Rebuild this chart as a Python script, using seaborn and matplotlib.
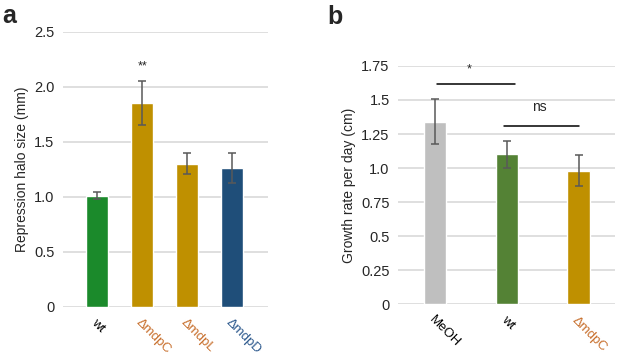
import numpy as np
import pandas as pd
import matplotlib
matplotlib.use("Agg")
import matplotlib.pyplot as plt
import seaborn as sns

# ------------------------------
# Data
# ------------------------------
a_strains = ["wt", "\u0394mdpC", "\u0394mdpL", "\u0394mdpD"]
a_halo = [1.01, 1.85, 1.30, 1.26]
a_err = [0.03, 0.20, 0.095, 0.135]
a_bar_colors = ["#1B8A2B", "#BF9000", "#BF9000", "#1F4E79"]
a_label_colors = ["#000000", "#C8702E", "#C8702E", "#2E5A8E"]
a_ticks = [0, 0.5, 1.0, 1.5, 2.0, 2.5]
a_ticklabels = ["0", "0.5", "1.0", "1.5", "2.0", "2.5"]

b_groups = ["MeOH", "wt", "\u0394mdpC"]
b_growth = [1.34, 1.10, 0.98]
b_err = [0.165, 0.10, 0.115]
b_bar_colors = ["#BFBFBF", "#548235", "#BF9000"]
b_label_colors = ["#000000", "#000000", "#C8702E"]
b_ticks = [0, 0.25, 0.5, 0.75, 1.0, 1.25, 1.5, 1.75]
b_ticklabels = ["0", "0.25", "0.5", "0.75", "1.0", "1.25", "1.5", "1.75"]

# ------------------------------
# Style
# ------------------------------
sns.set_style("white")
plt.rcParams['font.family'] = ['Liberation Sans', 'DejaVu Sans']

fig = plt.figure(figsize=(6.17, 3.56), dpi=100)
ax_a = fig.add_axes([0.102, 0.138, 0.332, 0.773])
ax_b = fig.add_axes([0.645, 0.145, 0.352, 0.670])


def draw_panel(ax, cats, vals, errs, bar_colors, label_colors, width,
               ticks, ticklabels, ylabel, xlim):
    df = pd.DataFrame({"cat": cats, "val": vals})
    sns.barplot(data=df, x="cat", y="val", hue="cat", palette=bar_colors,
                width=width, legend=False, ax=ax, zorder=3, saturation=1)
    ax.errorbar(np.arange(len(cats)), vals, yerr=errs, fmt="none",
                ecolor="#595959", elinewidth=1.1, capsize=3, capthick=1.1,
                zorder=4)
    ax.set_ylim(ticks[0], ticks[-1])
    ax.set_xlim(*xlim)
    ax.set_yticks(ticks)
    ax.set_yticklabels(ticklabels, fontsize=10.5)
    ax.yaxis.grid(True, color="#D9D9D9", linewidth=1.2, zorder=0)
    ax.set_axisbelow(True)
    for s in ax.spines.values():
        s.set_visible(False)
    ax.tick_params(axis="both", length=0, pad=6)
    ax.set_xlabel("")
    ax.set_ylabel(ylabel, fontsize=10)
    ax.set_xticks(np.arange(len(cats)))
    ax.set_xticklabels(cats, rotation=-45, ha="left", rotation_mode="anchor",
                       fontsize=9.5)
    for lab, c in zip(ax.get_xticklabels(), label_colors):
        lab.set_color(c)
    ax.tick_params(axis="x", pad=7)


# ------------------------------
# Panel a
# ------------------------------
draw_panel(ax_a, a_strains, a_halo, a_err, a_bar_colors, a_label_colors,
           0.49, a_ticks, a_ticklabels, "Repression halo size (mm)",
           (-0.77, 3.8))
ax_a.text(1, 2.13, "**", ha="center", va="bottom", fontsize=9)

# ------------------------------
# Panel b
# ------------------------------
draw_panel(ax_b, b_groups, b_growth, b_err, b_bar_colors, b_label_colors,
           0.31, b_ticks, b_ticklabels, "Growth rate per day (cm)",
           (-0.52, 2.51))
ax_b.plot([0.02, 1.11], [1.62, 1.62], color="black", linewidth=1.1)
ax_b.text(0.47, 1.68, "*", ha="center", va="bottom", fontsize=9)
ax_b.plot([0.96, 2.01], [1.31, 1.31], color="black", linewidth=1.1)
ax_b.text(1.45, 1.40, "ns", ha="center", va="bottom", fontsize=10)

# panel letters
fig.text(0.003, 0.99, "a", fontsize=18, fontweight="bold", va="top")
fig.text(0.53, 0.985, "b", fontsize=18, fontweight="bold", va="top")

plt.savefig("out.png", dpi=100)
